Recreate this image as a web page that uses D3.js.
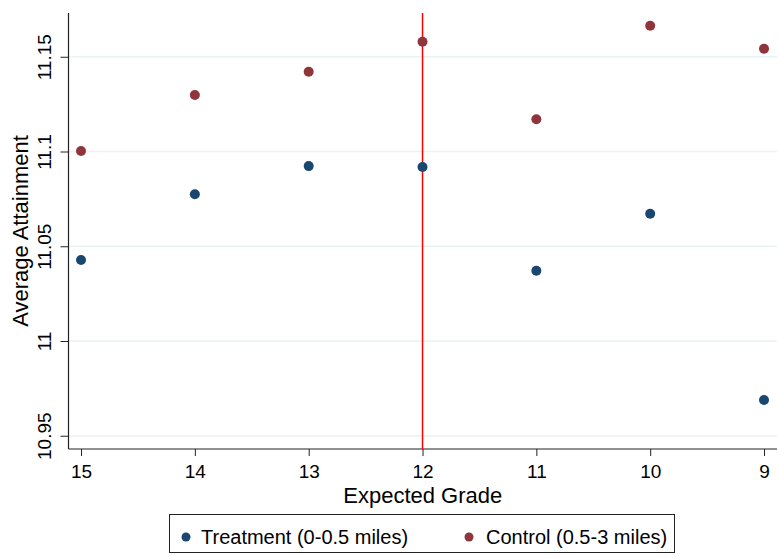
<!DOCTYPE html>
<html>
<head>
<meta charset="utf-8">
<script src="https://cdn.jsdelivr.net/npm/d3@7"></script>
<style>
  html, body { margin: 0; padding: 0; background: #fff; }
  svg { display: block; font-family: "Liberation Sans", Arial, sans-serif; }
</style>
</head>
<body>
<svg id="chart" width="779" height="557"></svg>
<script>
// Expected grade categories (axis runs from 15 down to 9)
const grades = [15, 14, 13, 12, 11, 10, 9];
// Average attainment by expected grade
const treatment = [11.0427, 11.0774, 11.0923, 11.0918, 11.0371, 11.0672, 10.9689];
const control   = [11.1003, 11.1298, 11.1421, 11.1579, 11.1170, 11.1664, 11.1542];
const yTicks = [10.95, 11, 11.05, 11.1, 11.15];
const yTickLabels = ["10.95", "11", "11.05", "11.1", "11.15"];
const cutoffGrade = 12;
const seriesNames = ["Treatment (0-0.5 miles)", "Control (0.5-3 miles)"];
const seriesColors = ["#1a476f", "#90353b"];

const FONT = "'Liberation Sans', Arial, sans-serif";
const svg = d3.select("#chart");
const plot = { left: 68.5, right: 777, top: 13, bottom: 449 };

const x = d3.scaleLinear().domain([15.11, 8.886]).range([plot.left, plot.right]);
const y = d3.scaleLinear().domain([10.943, 11.1731]).range([plot.bottom, plot.top]);

// Horizontal gridlines
svg.append("g")
  .selectAll("line")
  .data(yTicks)
  .join("line")
  .attr("x1", plot.left).attr("x2", plot.right)
  .attr("y1", d => y(d)).attr("y2", d => y(d))
  .attr("stroke", "#eaf2f3").attr("stroke-width", 1.5);

// Y axis
const yAxis = svg.append("g")
  .attr("transform", `translate(${plot.left},0)`)
  .call(d3.axisLeft(y).tickValues(yTicks).tickSize(8).tickPadding(0)
    .tickFormat((d, i) => yTickLabels[i]))
  .attr("font-family", FONT);
yAxis.select(".domain").attr("d", `M0,${plot.top}V${plot.bottom}`).attr("stroke", "#222").attr("stroke-width", 1.2);
yAxis.selectAll(".tick line").attr("stroke", "#222");
yAxis.selectAll(".tick text")
  .attr("transform", "translate(-24.5,0) rotate(-90)")
  .attr("x", 0).attr("dy", "0.35em")
  .attr("text-anchor", "middle")
  .attr("font-size", 19).attr("fill", "#000");

// X axis
const xAxis = svg.append("g")
  .attr("transform", `translate(0,${plot.bottom})`)
  .call(d3.axisBottom(x).tickValues(grades).tickSize(7).tickPadding(9).tickFormat(d3.format("d")))
  .attr("font-family", FONT);
xAxis.select(".domain").attr("d", `M${plot.left},0H${plot.right}`).attr("stroke", "#222").attr("stroke-width", 1.2);
xAxis.selectAll(".tick line").attr("stroke", "#222");
xAxis.selectAll(".tick text").attr("font-size", 19).attr("fill", "#000");

// Axis titles
svg.append("text")
  .attr("x", (plot.left + plot.right) / 2).attr("y", 502.5)
  .attr("text-anchor", "middle").attr("font-size", 22)
  .text("Expected Grade");
svg.append("text")
  .attr("transform", `translate(28,${(plot.top + plot.bottom) / 2}) rotate(-90)`)
  .attr("text-anchor", "middle").attr("font-size", 22)
  .text("Average Attainment");

// Cutoff line
svg.append("line")
  .attr("x1", x(cutoffGrade)).attr("x2", x(cutoffGrade))
  .attr("y1", plot.top).attr("y2", plot.bottom)
  .attr("stroke", "#ff0000").attr("stroke-width", 1.5);

// Points
[treatment, control].forEach((vals, s) => {
  svg.append("g")
    .selectAll("circle")
    .data(vals)
    .join("circle")
    .attr("cx", (d, i) => x(grades[i]))
    .attr("cy", d => y(d))
    .attr("r", 5)
    .attr("fill", seriesColors[s]);
});

// Legend
const legend = svg.append("g");
legend.append("rect")
  .attr("x", 169.5).attr("y", 514.5).attr("width", 505).attr("height", 38)
  .attr("fill", "#fff").attr("stroke", "#222").attr("stroke-width", 1);
const legendItems = [{ cx: 186, tx: 201 }, { cx: 469, tx: 486 }];
legendItems.forEach((it, i) => {
  legend.append("circle").attr("cx", it.cx).attr("cy", 537).attr("r", 4.5).attr("fill", seriesColors[i]);
  legend.append("text").attr("x", it.tx).attr("y", 544)
    .attr("font-size", 20).text(seriesNames[i]);
});
</script>
</body>
</html>
